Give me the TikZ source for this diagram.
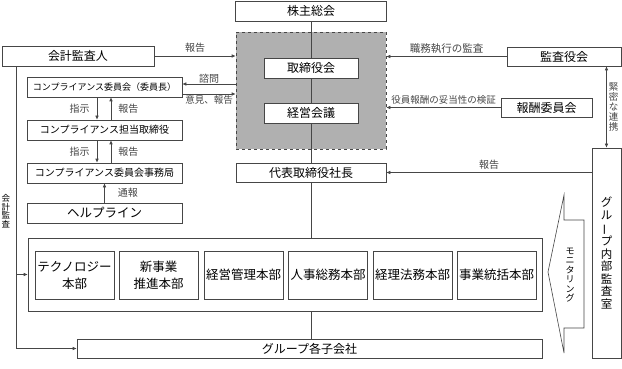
\documentclass[tikz,border=0pt]{standalone}
\usepackage{fontspec}
\setmainfont{Noto Sans CJK JP}
\usepackage{graphicx}
\usetikzlibrary{arrows.meta,positioning,calc}
\definecolor{linegrey}{RGB}{70,70,70}
\definecolor{boardgrey}{RGB}{176,176,176}
\newcommand{\tatebar}{\rotatebox[origin=c]{90}{ー}}

\begin{document}
\begin{tikzpicture}[x=1pt, y=-1pt,
    box/.style={rectangle, draw=linegrey, line width=0.6pt, fill=white, inner sep=0pt,
        minimum height=20pt, font=\fontsize{12}{14}\selectfont},
    sbox/.style={box, minimum width=155pt, font=\fontsize{10}{12}\selectfont},
    hbox/.style={box, minimum width=79pt, minimum height=48pt, align=center,
        font=\fontsize{12.5}{17}\selectfont},
    tate/.style={align=center, inner sep=0pt},
    lbl/.style={font=\fontsize{10}{12}\selectfont, inner sep=1pt},
    arr/.style={-{Latex[length=4pt,width=3.5pt]}, line width=0.6pt, linegrey},
    arrb/.style={{Latex[length=4pt,width=3.5pt]}-{Latex[length=4pt,width=3.5pt]}, line width=0.6pt, linegrey},
    ln/.style={line width=0.6pt, linegrey}
]
    \useasboundingbox (0,0) rectangle (622,369);

    % board area
    \node[draw=linegrey, dashed, line width=0.6pt, fill=boardgrey,
        minimum width=150pt, minimum height=117pt] (board) at (311,90.5) {};

    \node[box, minimum width=151pt] (kabu) at (311,11) {株主総会};
    \node[box, minimum width=94pt] (torishimari) at (311,68) {取締役会};
    \node[box, minimum width=94pt] (keiei) at (311,113) {経営会議};
    \node[box, minimum width=150pt, minimum height=19pt] (daihyo) at (311,172.5) {代表取締役社長};

    \node[box, minimum width=152pt] (kaikei) at (78,56) {会計監査人};
    \node[sbox, font=\fontsize{9}{11}\selectfont] (compiin) at (104.5,87) {コンプライアンス委員会（委員長）};
    \node[sbox] (comptori) at (104.5,130) {コンプライアンス担当取締役};
    \node[sbox] (compjim) at (104.5,173) {コンプライアンス委員会事務局};
    \node[sbox, font=\fontsize{12.5}{14}\selectfont] (help) at (104.5,213) {ヘルプライン};

    \node[box, minimum width=114pt, minimum height=19pt] (kansayaku) at (564,56.5) {監査役会};
    \node[box, minimum width=91pt, minimum height=19pt] (hoshu) at (546.5,107.5) {報酬委員会};
    \node[box, tate, minimum width=29pt, minimum height=210pt,
        font=\fontsize{11.5}{12.5}\selectfont] (naibu) at (606.5,253)
        {グ\\ル\\\tatebar\\プ\\内\\部\\監\\査\\室};

    \node[box, minimum width=514pt, minimum height=73pt] (honbu) at (285,274.5) {};
    \foreach \i/\cx/\txt in {1/74.5/{テクノロジー\\本部}, 2/158.5/{新事業\\推進本部},
        3/243.5/{経営管理本部}, 4/328/{人事総務本部}, 5/412.5/{経理法務本部}, 6/496.5/{事業統括本部}}
        \node[hbox] (hb\i) at (\cx,275) {\txt};

    \node[box, minimum width=465pt, minimum height=19pt] (kogaisha) at (309.5,348.5) {グループ各子会社};

    % main line
    \draw[ln] (kabu) -- (torishimari) -- (keiei) -- (daihyo);
    \draw[ln] (daihyo.south) -- (daihyo.south |- honbu.north);
    \draw[ln] (daihyo.south |- honbu.south) -- (daihyo.south |- kogaisha.north);

    \draw[arr] (kaikei.east) -- (kaikei.east -| board.west) node[lbl, midway, above=2pt] {報告};
    \draw[arr] ([yshift=3pt]compiin.east -| board.west) -- ([yshift=3pt]compiin.east)
        node[lbl, midway, above, inner sep=0.5pt] {諮問};
    \draw[arr] ([yshift=-7pt]compiin.east) -- ([yshift=-7pt]compiin.east -| board.west)
        node[lbl, midway, below, font=\fontsize{9.5}{11}\selectfont] {意見、報告};

    \draw[arr] ([xshift=-7.5pt]compiin.south) -- ([xshift=-7.5pt]comptori.north) node[lbl, midway, left=6pt] {指示};
    \draw[arr] ([xshift=6.5pt]comptori.north) -- ([xshift=6.5pt]compiin.south) node[lbl, midway, right=6pt] {報告};
    \draw[arr] ([xshift=-7.5pt]comptori.south) -- ([xshift=-7.5pt]compjim.north) node[lbl, midway, left=6pt] {指示};
    \draw[arr] ([xshift=6.5pt]compjim.north) -- ([xshift=6.5pt]comptori.south) node[lbl, midway, right=6pt] {報告};
    \draw[arr] (help.north) -- (compjim.south) node[lbl, midway, right=12pt] {通報};

    \draw[arr] (kansayaku.west) -- (kansayaku.west -| board.east)
        node[lbl, midway, above=2pt, font=\fontsize{10.5}{12}\selectfont] {職務執行の監査};
    \draw[arr] (hoshu.west) -- (hoshu.west -| board.east)
        node[lbl, midway, above=2pt, font=\fontsize{9.5}{11}\selectfont] {役員報酬の妥当性の検証};
    \draw[arrb] (naibu.north |- kansayaku.south) -- (naibu.north)
        node[tate, midway, right=2pt, font=\fontsize{9.5}{10}\selectfont] {緊\\密\\な\\連\\携};
    \draw[arr] (naibu.west |- daihyo.east) -- (daihyo.east) node[lbl, midway, above=2pt] {報告};

    % accounting audit
    \draw[arr] ([xshift=-62pt]kaikei.south) |- (honbu.west);
    \draw[arr] ([xshift=-62pt]kaikei.south) |- (kogaisha.west);
    \node[tate, font=\fontsize{8.5}{8.5}\selectfont] (kansalbl) at (6,211) {会\\計\\監\\査};

    % monitoring
    \draw[ln, fill=white] (564,195) -- (564,220) -- (584,220) -- (584,328) -- (564,328)
        -- (564,353) -- (548,272) -- cycle;
    \node[tate, font=\fontsize{9}{9.5}\selectfont] (monitor) at (570,275) {モ\\ニ\\タ\\リ\\ン\\グ};
\end{tikzpicture}
\end{document}
